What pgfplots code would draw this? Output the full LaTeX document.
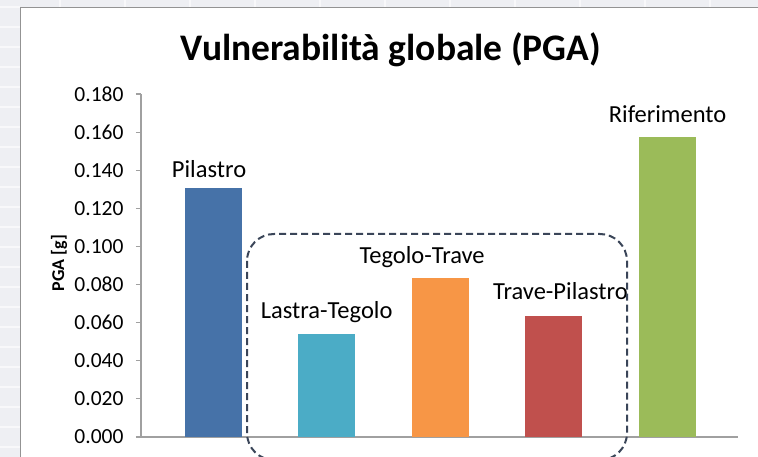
\documentclass[border=0pt]{standalone}
\usepackage{pgfplots}
\pgfplotsset{compat=1.18}
\usepackage{fontspec}
\setmainfont{Carlito}
\definecolor{cblue}{HTML}{4672A8}
\definecolor{cteal}{HTML}{4BACC6}
\definecolor{corange}{HTML}{F79646}
\definecolor{cred}{HTML}{C0504D}
\definecolor{cgreen}{HTML}{9BBB59}
\definecolor{axgray}{HTML}{A0A0A0}
\definecolor{bggray}{HTML}{EEEFF3}
\definecolor{bgline}{HTML}{F8F8FA}
\definecolor{dashc}{HTML}{3A4558}
\begin{document}
\begin{tikzpicture}[x=1pt,y=1pt]
\useasboundingbox (0,0) rectangle (758,-457);
\begin{scope}
\clip (0,0) rectangle (758,-457);
\fill[bggray] (0,0) rectangle (758,-457);
\foreach \yy in {7,27,47,67,87,107,127,147,167,187,207,227,247,267,287,307,327,347,367,387,407,427,447}
  \draw[bgline, line width=1.2pt] (0,-\yy) -- (20,-\yy);
\foreach \xx in {60,125,190,255,320,385,450,515,580,645,710}
  \draw[bgline, line width=1.2pt] (\xx,0) -- (\xx,-7);
\fill[white] (20,-7) rectangle (800,-500);
\draw[gray!85, line width=0.9pt] (20,-480) -- (20,-7) -- (800,-7);
\node[font=\fontsize{37.5}{40}\selectfont\bfseries] at (391,-50) {Vulnerabilità globale (PGA)};
\node[rotate=90, font=\fontsize{18}{20}\selectfont\bfseries] at (59,-263) {PGA [g]};
\begin{axis}[
  at={(141pt,-437pt)}, anchor=south west,
  scale only axis, width=597pt, height=343pt,
  xmin=-0.634, xmax=4.62, ymin=0, ymax=0.18,
  axis x line*=bottom, axis y line*=left,
  axis line style={-, draw=axgray, line width=1.4pt},
  xtick=\empty,
  ytick={0,0.02,0.04,0.06,0.08,0.1,0.12,0.14,0.16,0.18},
  tick align=outside, major tick length=5pt,
  tick style={draw=axgray, line width=1.2pt},
  yticklabel style={xshift=-9pt, /pgf/number format/.cd, fixed, fixed zerofill, precision=3, assume math mode=true},
  ticklabel style={font=\fontsize{21.5}{24}\selectfont, text=black},
  ybar, bar width=57pt,
  clip=false,
]
\addplot[fill=cblue, draw=none, bar shift=0pt] coordinates {(0,0.1305)};
\addplot[fill=cteal, draw=none, bar shift=0pt] coordinates {(1,0.0540)};
\addplot[fill=corange, draw=none, bar shift=0pt] coordinates {(2,0.0833)};
\addplot[fill=cred, draw=none, bar shift=0pt] coordinates {(3,0.0635)};
\addplot[fill=cgreen, draw=none, bar shift=0pt] coordinates {(4,0.1575)};
\node[anchor=base, font=\fontsize{24.5}{26}\selectfont] at (axis cs:-0.035,0.1364) {Pilastro};
\node[anchor=base, font=\fontsize{24.5}{26}\selectfont] at (axis cs:1.0,0.0624) {Lastra-Tegolo};
\node[anchor=base, font=\fontsize{24.5}{26}\selectfont] at (axis cs:1.84,0.0911) {Tegolo-Trave};
\node[anchor=base, font=\fontsize{24.5}{26}\selectfont] at (axis cs:3.057,0.0719) {Trave-Pilastro};
\node[anchor=base, font=\fontsize{24.5}{26}\selectfont] at (axis cs:4.0,0.165) {Riferimento};
\end{axis}
\draw[dashc, line width=2pt, dash pattern=on 7pt off 4pt, rounded corners=27pt] (247,-234) rectangle (627,-460);
\end{scope}
\end{tikzpicture}
\end{document}
